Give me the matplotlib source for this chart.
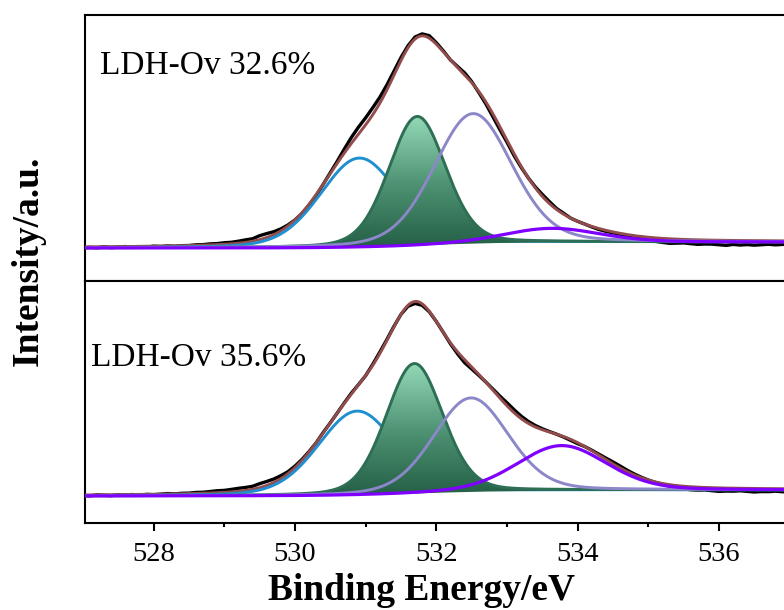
import numpy as np
import matplotlib.pyplot as plt
from matplotlib.patches import Polygon
from matplotlib.colors import LinearSegmentedColormap

plt.rcParams['font.family'] = ['Liberation Serif', 'DejaVu Serif']

# фитинг O 1s: центр (эВ), высота (a.u.), ширина FWHM (эВ)
# порядок компонент: синяя, зелёная (заливка), сиреневая, фиолетовая
top_centers = [530.91, 531.73, 532.52, 533.63]
top_heights = [89, 129, 130, 14]
top_fwhm = [1.3, 0.95, 1.3, 1.6]
top_bg = [33, 39]  # фон Ширли: слева, справа

bot_centers = [530.88, 531.69, 532.49, 533.77]
bot_heights = [84, 130, 94, 45]
bot_fwhm = [1.3, 0.95, 1.25, 1.5]
bot_bg = [27, 33]

# отклонения экспериментальной кривой от огибающей, шаг 0.1 эВ от 527.0 до 537.0
top_resid = [-1, -0.5, -1, 0, -1, -0.5, 0, -1, -0.5, -1, 0, -0.5, 0, -0.5, 0, 0,
             0.5, 0.5, 1, 1, 1.5, 1.5, 2, 2.5, 2.5,
             4, 4, 3, 2, 1, 0,
             -1, -1.5, -1, 0, 1,
             2, 4, 6, 7, 7, 7, 6, 5, 4, 3,
             2, 2, 2, 2.5, 1.5,
             1, 0, 1, 2, 1,
             -1, -2, -3, -3, -2, -2, -1,
             0, 1, 2, 2, 1, 1, 0, 0,
             0, -0.5, -1, -1, -1, -1, -1.5, -2, -2.5, -3,
             -3.5, -4, -4.5, -4, -3.5, -4, -4.5, -4, -4, -4.5,
             -5, -4, -4.5, -4, -4.5, -4, -3.5, -4, -3.5, -3.5]
bot_resid = [-0.5, -1, 0, -0.5, -1, 0, -0.5, 0, -1, 0, -0.5, 0, 0.5, 0, 0.5, 0.5,
             1, 1, 1.5, 2, 2, 2.5, 3, 3, 3,
             4, 4, 3.5, 3, 2, 1.5,
             1, 0.5, 0, 0.5, 0,
             0, 0.5, 1, 0.5, 0, 1, 1.5, 1, 0.5, 0,
             -1, -2, -1.5, -0.5, 0,
             0, -1, -2, -3, -2,
             -1, 0, 1, 2, 3, 3, 2.5,
             2, 1.5, 1, 0.5, 0, -0.5, -1, -1,
             0, 0.5, 1, 1.5, 2, 2, 1.5, 1, 0.5, 0,
             -0.5, -1, -1.5, -2, -2.5, -3, -3, -2.5, -3, -3.5,
             -3, -3, -2.5, -3, -3.5, -3, -3, -2.5, -3, -3]

labels = ['LDH-Ov 32.6%', 'LDH-Ov 35.6%']

comp_colors = ['#1f8fcf', '#2d6e55', '#8b87c9', '#8000ff']
env_color = '#924c4c'


def pseudo_voigt(x, c, h, w, eta=0.2):
    d = (x - c) / w
    return h * ((1 - eta) * np.exp(-4 * np.log(2) * d ** 2) + eta / (1 + 4 * d ** 2))


x = np.linspace(527.0, 537.6, 1061)  # шаг 0.01 эВ


def draw_panel(ax, centers, heights, fwhm, bg, resid):
    peaks = [pseudo_voigt(x, c, h, w) for c, h, w in zip(centers, heights, fwhm)]
    total = np.sum(peaks, axis=0)
    cum = np.cumsum(total)
    back = bg[0] + (bg[1] - bg[0]) * cum / cum[-1]
    env = back + total

    xr = x[:1001:10]
    raw = env[:1001:10] + np.array(resid)
    ax.plot(xr, raw, color='black', lw=2.4, zorder=2)
    ax.plot(x, env, color=env_color, lw=2.1, zorder=3)

    ax.plot(x, back + peaks[0], color=comp_colors[0], lw=2.1, zorder=4)

    # зелёная компонента с вертикальным градиентом
    g_top = back + peaks[1]
    verts = np.column_stack([np.r_[x, x[::-1]], np.r_[g_top, back[::-1]]])
    patch = Polygon(verts, closed=True, facecolor='none', edgecolor='none')
    ax.add_patch(patch)
    cmap = LinearSegmentedColormap.from_list('grn', ['#245f45', '#4f9474', '#93d9b7'])
    grad = np.linspace(0, 1, 256).reshape(-1, 1)
    im = ax.imshow(grad, extent=[x[0], x[-1], back.min(), g_top.max()], origin='lower',
                   cmap=cmap, aspect='auto', zorder=5)
    im.set_clip_path(patch)
    ax.plot(x, g_top, color=comp_colors[1], lw=2.1, zorder=6)

    ax.plot(x, back + peaks[2], color=comp_colors[2], lw=2.1, zorder=7)
    ax.plot(x, back + peaks[3], color=comp_colors[3], lw=2.3, zorder=8)


fig = plt.figure(figsize=(7.84, 6.10), dpi=100)
ax_top = fig.add_axes([0.1084, 0.5393, 0.953, 0.4361])
ax_bot = fig.add_axes([0.1084, 0.1426, 0.953, 0.3967])

draw_panel(ax_top, top_centers, top_heights, top_fwhm, top_bg, top_resid)
draw_panel(ax_bot, bot_centers, bot_heights, bot_fwhm, bot_bg, bot_resid)

ax_top.set_ylim(0, 266)
ax_bot.set_ylim(0, 242)

for ax in (ax_top, ax_bot):
    ax.set_xlim(527.03, 537.6)
    ax.set_yticks([])
    for s in ax.spines.values():
        s.set_linewidth(1.5)

ax_top.set_xticks([])
ax_bot.set_xticks([528, 530, 532, 534, 536])
ax_bot.set_xticks([529, 531, 533, 535, 537], minor=True)
ax_bot.tick_params(axis='x', which='major', length=6, width=1.5, labelsize=20.5, pad=8)
ax_bot.tick_params(axis='x', which='minor', length=3, width=1.5)

fig.text(100 / 784, 1 - 74 / 610, labels[0], fontsize=24, va='baseline', ha='left')
fig.text(91 / 784, 1 - 366 / 610, labels[1], fontsize=24, va='baseline', ha='left')

fig.text(421 / 784, 1 - 600 / 610, 'Binding Energy/eV', fontsize=27, fontweight='bold',
         ha='center', va='baseline')
fig.text(28 / 784, 1 - 261 / 610, 'Intensity/a.u.', fontsize=27, fontweight='bold',
         ha='center', va='center', rotation=90)

fig.savefig('out.png', dpi=100)
